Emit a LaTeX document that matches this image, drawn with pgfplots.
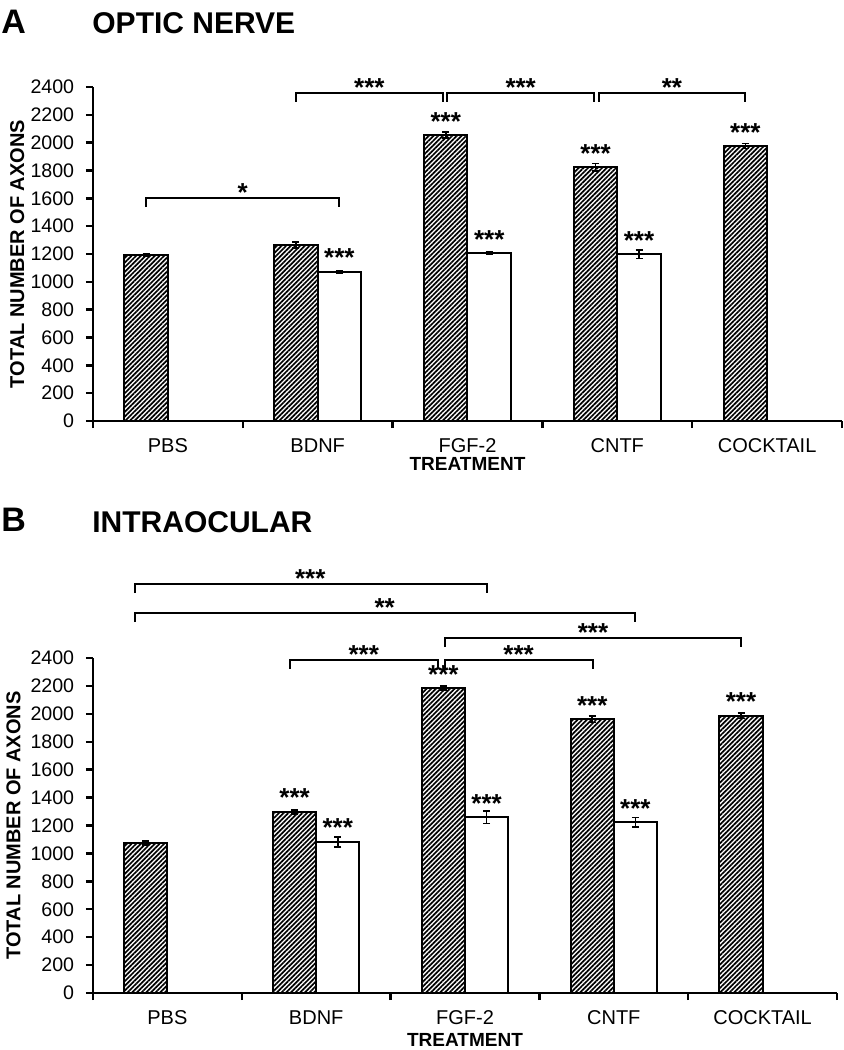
\documentclass[border=0pt]{standalone}
\usepackage{fontspec}
\setmainfont{Liberation Sans}
\usepackage{pgfplots}
\pgfplotsset{compat=1.18}
\usepackage{pgfplotstable}
\usetikzlibrary{patterns.meta}

% optic nerve
\pgfplotstableread{
x y e
0 1193 10
1 1265 22
2 2055 22
3 1823 26
4 1976 17
}\hatchA
\pgfplotstableread{
x y e
1 1071 8
2 1207 6
3 1198 30
}\whiteA
% intraocular
\pgfplotstableread{
x y e
0 1075 14
1 1297 14
2 2185 13
3 1961 24
4 1987 21
}\hatchB
\pgfplotstableread{
x y e
1 1082 36
2 1259 44
3 1223 34
}\whiteB

\newcommand{\starfont}{\bfseries\fontsize{13}{13}\selectfont}
\newcommand{\stars}[3]{\node[font=\starfont, anchor=base, inner sep=0pt, yshift=2.5pt] at (axis cs:#1,#2) {#3};}
\newcommand{\sig}[5]{%
  \draw[line width=1pt] ([yshift=-4.5pt]axis cs:#1,#3) -- (axis cs:#1,#3) -- (axis cs:#2,#3) -- ([yshift=-4.5pt]axis cs:#2,#3);
  \node[font=\starfont, anchor=base, inner sep=0pt, yshift=-1.8pt] at (axis cs:#4,#3) {#5};}

\pgfplotsset{
  panel/.style={
    scale only axis, clip=false,
    xmin=-0.5, xmax=4.5, ymin=0, ymax=2400,
    axis lines=left, axis line style={-, line width=1.2pt},
    ybar, bar width=0.29,
    xtick={-0.5,0.5,1.5,2.5,3.5,4.5}, x tick label as interval,
    xticklabels={PBS,BDNF,FGF-2,CNTF,COCKTAIL},
    ytick={0,200,...,2400},
    tick align=outside, major tick length=3.5pt,
    tick style={black, line width=1.2pt},
    /pgf/number format/assume math mode=true, /pgf/number format/1000 sep={},
    yticklabel style={font=\fontsize{9.8}{10}\selectfont, xshift=-2.4pt},
    xticklabel style={font=\fontsize{10}{10}\selectfont, yshift=-1.7pt},
    ylabel={TOTAL NUMBER OF AXONS},
    xlabel={TREATMENT},
    xlabel style={font=\bfseries\fontsize{9.5}{10}\selectfont, anchor=north},
    error bars/error bar style={line width=0.8pt, black},
    error bars/error mark options={rotate=90, mark size=1.75pt, line width=0.8pt, black},
  },
  hatched/.style={draw=black, line width=1pt, bar shift=-0.145,
    pattern={Lines[angle=45, distance=1.65pt, line width=0.85pt]},
    error bars/.cd, y dir=both, y explicit},
  blank/.style={draw=black, line width=1pt, fill=white, bar shift=0.145,
    error bars/.cd, y dir=both, y explicit},
}

\begin{document}
\begin{tikzpicture}
\useasboundingbox (0,0) rectangle (422pt,-525pt);

\node[anchor=base west, inner sep=0pt, font=\bfseries\fontsize{17}{17}\selectfont] at (0.5pt,-16.5pt) {A};
\node[anchor=base west, inner sep=0pt, font=\bfseries\fontsize{15}{15}\selectfont] at (46pt,-16.5pt) {OPTIC NERVE};
\node[anchor=base west, inner sep=0pt, font=\bfseries\fontsize{17}{17}\selectfont] at (0.5pt,-265.5pt) {B};
\node[anchor=base west, inner sep=0pt, font=\bfseries\fontsize{15}{15}\selectfont] at (46pt,-266pt) {INTRAOCULAR};

\begin{axis}[panel,
  at={(46.5pt,-210.5pt)}, anchor=south west,
  width=374.5pt, height=167pt,
  ylabel style={font=\bfseries\fontsize{10}{10}\selectfont, at={(axis description cs:-0.101,0.5)}, anchor=center},
  xlabel style={at={(axis description cs:0.5,-0.089)}},
]
\addplot[hatched] table[x=x, y=y, y error=e] {\hatchA};
\addplot[blank] table[x=x, y=y, y error=e] {\whiteA};

\stars{1.145}{1071}{***}
\stars{1.855}{2055}{***}
\stars{2.145}{1207}{***}
\stars{2.855}{1823}{***}
\stars{3.145}{1198}{***}
\stars{3.855}{1976}{***}

\sig{-0.145}{1.145}{1602}{0.5}{*}
\sig{0.855}{1.835}{2357}{1.345}{***}
\sig{1.865}{2.845}{2357}{2.355}{***}
\sig{2.875}{3.855}{2357}{3.365}{**}
\end{axis}

\begin{axis}[panel,
  at={(46.5pt,-496.5pt)}, anchor=south west,
  width=372pt, height=167.5pt,
  ylabel style={font=\bfseries\fontsize{10}{10}\selectfont, at={(axis description cs:-0.107,0.5)}, anchor=center},
  xlabel style={at={(axis description cs:0.5,-0.100)}},
]
\addplot[hatched] table[x=x, y=y, y error=e] {\hatchB};
\addplot[blank] table[x=x, y=y, y error=e] {\whiteB};

\stars{0.855}{1297}{***}
\stars{1.145}{1082}{***}
\stars{1.855}{2185}{***}
\stars{2.145}{1259}{***}
\stars{2.855}{1961}{***}
\stars{3.145}{1223}{***}
\stars{3.855}{1987}{***}

\sig{-0.22}{2.145}{2930}{0.96}{***}
\sig{-0.22}{3.145}{2722}{1.46}{**}
\sig{1.865}{3.855}{2543}{2.86}{***}
\sig{0.825}{1.82}{2386}{1.32}{***}
\sig{1.865}{2.86}{2386}{2.36}{***}
\end{axis}
\end{tikzpicture}
\end{document}
